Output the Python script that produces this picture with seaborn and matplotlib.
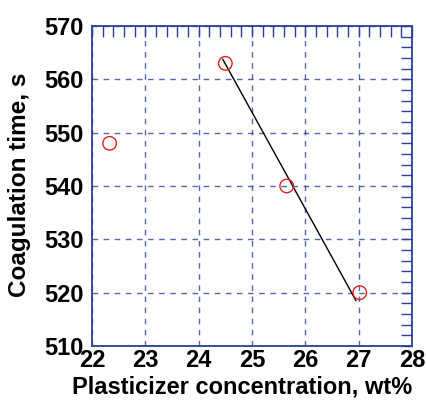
import matplotlib
matplotlib.use("Agg")
import matplotlib.pyplot as plt
import seaborn as sns
import pandas as pd
from matplotlib.ticker import MultipleLocator

# Data
conc = [22.33, 24.5, 25.65, 27.02]
coag_time = [548, 563, 540, 520]
fit_x = [24.45, 26.95]
fit_y = [563.8, 518.5]

x_ticks = [22, 23, 24, 25, 26, 27, 28]
y_ticks = [510, 520, 530, 540, 550, 560, 570]

sns.set_style("white")
plt.rcParams['font.family'] = ['Liberation Sans', 'DejaVu Sans']
plt.rcParams['text.color'] = 'black'
plt.rcParams['axes.labelcolor'] = 'black'
plt.rcParams['xtick.labelcolor'] = 'black'
plt.rcParams['ytick.labelcolor'] = 'black'

df = pd.DataFrame({"conc": conc, "time": coag_time})
fit = pd.DataFrame({"x": fit_x, "y": fit_y})

fig = plt.figure(figsize=(4.26, 4.0), dpi=100)
ax = fig.add_axes([92/426, 1 - 346/400, 320/426, 320/400])

blue = "#2a3f9e"
sns.lineplot(data=fit, x="x", y="y", ax=ax, color="black", linewidth=1.0, zorder=3)
sns.scatterplot(data=df, x="conc", y="time", ax=ax, marker="o", s=95,
                facecolor="none", edgecolor="#e02020", linewidth=1.0, zorder=4)

ax.set_xlim(22, 28)
ax.set_ylim(510, 570)
ax.set_xticks(x_ticks)
ax.set_yticks(y_ticks)
ax.xaxis.set_minor_locator(MultipleLocator(0.2))
ax.yaxis.set_minor_locator(MultipleLocator(2))

ax.grid(True, which="major", color=blue, linestyle=(0, (4, 4)), linewidth=1.0, alpha=0.8)
for s in ax.spines.values():
    s.set_color(blue)
    s.set_linewidth(1.3)

ax.tick_params(which="both", direction="in", top=True, right=True, color=blue,
               length=8, width=1.0, labelcolor="black")
ax.tick_params(axis="x", which="major", pad=2, labelsize=17)
ax.tick_params(axis="y", which="major", pad=6, labelsize=17)
for lab in ax.get_xticklabels() + ax.get_yticklabels():
    lab.set_fontweight("bold")

ax.set_xlabel("Plasticizer concentration, wt%", fontsize=17, fontweight="bold", color="black")
ax.set_ylabel("Coagulation time, s", fontsize=17.5, fontweight="bold", color="black")
ax.xaxis.set_label_coords(0.47, -0.164, transform=ax.transAxes)
ax.xaxis.label.set_va("bottom")
ax.yaxis.set_label_coords(-0.19, 0.505, transform=ax.transAxes)

fig.savefig("out.png", dpi=100)
